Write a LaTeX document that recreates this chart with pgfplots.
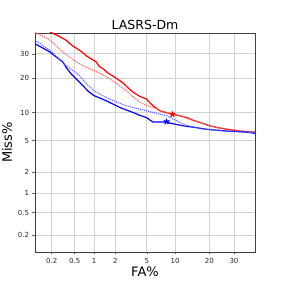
\documentclass[border=0pt]{standalone}
\usepackage{fontspec}
\setmainfont{DejaVu Sans}
\usepackage{pgfplots}
\pgfplotsset{compat=1.18}
\makeatletter
\pgfmathdeclarefunction{probit}{1}{%
  \begingroup
  \pgfmathparse{sqrt(-2*ln(#1/100))}\let\tt@\pgfmathresult
  \pgfmathparse{-(\tt@ - (2.515517+0.802853*\tt@+0.010328*\tt@*\tt@)/(1+1.432788*\tt@+0.189269*\tt@*\tt@+0.001308*\tt@*\tt@*\tt@))}%
  \pgfmathsmuggle\pgfmathresult
  \endgroup}
\makeatother
\definecolor{lred}{RGB}{255,100,100}
\definecolor{lblue}{RGB}{100,100,255}
\begin{document}
\begin{tikzpicture}
\useasboundingbox (0,0) rectangle (283pt,283pt);
\begin{axis}[
  at={(35pt,31pt)}, anchor=south west,
  scale only axis, width=220pt, height=219pt,
  x coord trafo/.code={\pgfmathparse{probit(#1)}},
  y coord trafo/.code={\pgfmathparse{probit(#1)}},
  xmin=0.1, xmax=40, ymin=0.1, ymax=40,
  xtick={0.2,0.5,1,2,5,10,20,30},
  xticklabels={0.2,0.5,1,2,5,10,20,30},
  ytick={0.2,0.5,1,2,5,10,20,30},
  yticklabels={0.2,0.5,1,2,5,10,20,30},
  xtick pos=bottom, ytick pos=left,
  ticklabel style={font=\fontsize{7}{8}\selectfont, text=black!85},
  tick align=outside, major tick length=2.5pt,
  tick style={black!60, line width=0.6pt},
  grid=major,
  major grid style={gray!35, line width=0.9pt},
  axis line style={black!75, line width=0.8pt},
  title={LASRS-Dm},
  title style={font=\fontsize{12.5}{14}\selectfont, yshift=-6pt},
  xlabel={FA\%}, ylabel={Miss\%},
  label style={font=\fontsize{13}{15}\selectfont},
  xlabel style={yshift=3pt},
  ylabel style={yshift=-1pt},
  clip=true,
]
% red solid
\addplot[red, line width=1.2pt] coordinates {
(0.19,40.5) (0.27,38.5) (0.36,36.5) (0.45,34.0) (0.57,32.1) (0.66,30.8) (0.77,29.1) (0.92,27.7) (1.08,26.5)
(1.2,24.6) (1.36,23.7) (1.6,22.0) (1.97,20.5) (2.2,19.6) (2.55,18.4) (2.95,16.8) (3.43,15.4)
(4.1,14.2) (4.96,13.4) (5.4,12.4) (5.9,11.6) (6.4,11.0) (7.0,10.4) (8.0,10.0) (9.6,9.6)
(11.0,9.3) (12.9,8.9) (14.5,8.4) (16.9,7.9) (18.5,7.6) (20.3,7.3) (23.0,7.0) (27,6.7) (32.9,6.4) (36,6.3) (40,6.25)
};
% red dotted
\addplot[lred, densely dotted, line width=1.1pt] coordinates {
(0.1,40.5) (0.14,38.5) (0.19,36.5) (0.25,33.5) (0.32,30.9) (0.42,28.5) (0.53,26.5) (0.75,24.5) (1.0,23.0)
(1.3,21.5) (1.69,19.9) (2.2,17.8) (2.82,15.9) (3.4,14.0) (4.14,12.5) (5.0,11.7) (5.9,11.2)
(7.0,10.5) (8.23,10.0) (9.6,9.6) (11.2,9.3) (13.5,8.6) (16.9,7.9) (19.5,7.4) (22.9,7.0) (29.9,6.6) (35,6.4) (40,6.25)
};
% blue solid
\addplot[blue, line width=1.2pt] coordinates {
(0.1,34.8) (0.14,32.8) (0.19,30.9) (0.25,28.5) (0.32,26.5) (0.37,24.0) (0.44,21.7) (0.55,19.5) (0.68,17.5)
(0.82,15.7) (1.0,14.4) (1.25,13.6) (1.52,12.9) (1.9,12.0) (2.31,11.2) (2.8,10.6) (3.43,10.0)
(4.1,9.4) (4.96,8.9) (5.4,8.4) (5.9,8.0) (7.0,8.0) (8.23,8.0) (9.0,7.8) (10,7.6) (11.3,7.4) (12.9,7.2)
(15.5,7.0) (19.1,6.7) (23,6.55) (27,6.4) (33,6.3) (37,6.2) (40,6.05)
};
% blue dotted
\addplot[lblue, densely dotted, line width=1.1pt] coordinates {
(0.1,36.5) (0.14,34.0) (0.19,31.7) (0.27,28.0) (0.36,25.1) (0.47,23.0) (0.60,21.1) (0.78,18.0) (1.0,15.9)
(1.3,14.5) (1.69,13.4) (2.2,12.4) (2.82,11.6) (3.7,11.0) (4.96,10.4) (6.4,9.8) (8.23,9.3)
(9.6,8.6) (11.2,7.9) (13.5,7.3) (16.9,6.8) (21,6.6) (27,6.4) (33,6.3) (40,6.15)
};
\addplot[red, only marks, mark=star, mark size=3pt, line width=1.3pt] coordinates {(9.4,9.6)};
\addplot[blue, only marks, mark=star, mark size=3pt, line width=1.3pt] coordinates {(8.2,8.1)};
\end{axis}
\end{tikzpicture}
\end{document}
